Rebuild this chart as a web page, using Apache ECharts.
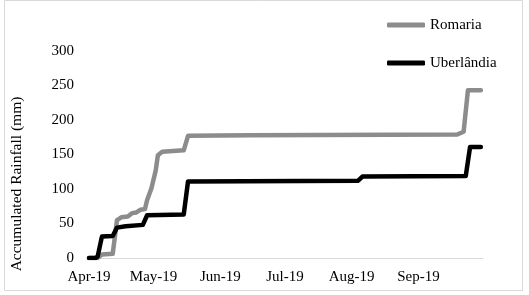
<!DOCTYPE html>
<html>
<head>
<meta charset="utf-8">
<script src="https://cdn.jsdelivr.net/npm/echarts@6/dist/echarts.min.js"></script>
<style>
html,body{margin:0;padding:0;background:#fff;}
#chart{width:529px;height:295px;}
</style>
</head>
<body>
<div id="chart"></div>
<script>
// ---- data ----
var seriesNames = ['Romaria', 'Uberlândia'];
var romariaDates = ['2019-04-01','2019-04-05','2019-04-07','2019-04-12','2019-04-13','2019-04-14','2019-04-16','2019-04-19','2019-04-21','2019-04-23','2019-04-25','2019-04-27','2019-04-28','2019-04-30','2019-05-02','2019-05-03','2019-05-05','2019-05-15','2019-05-17','2019-06-15','2019-09-19','2019-09-22','2019-09-24','2019-09-30'];
var romariaValues = [0,0,5,6,30,55,59,60,65,66,70,71,84,101,127,149,154,156,177,178,179,183,243,243];
var uberDates = ['2019-04-01','2019-04-04','2019-04-05','2019-04-07','2019-04-12','2019-04-14','2019-04-18','2019-04-26','2019-04-28','2019-05-15','2019-05-17','2019-08-04','2019-08-06','2019-09-23','2019-09-25','2019-09-30'];
var uberValues = [0,0,2,31,32,44,46,48,62,63,111,112,118,119,161,161];
var monthTicks = ['2019-04-01','2019-05-01','2019-06-01','2019-07-01','2019-08-01','2019-09-01'];
var monthLabels = ['Apr-19','May-19','Jun-19','Jul-19','Aug-19','Sep-19'];
var axisStart = '2019-04-01', axisEnd = '2019-10-01';
var yTicks = [0, 50, 100, 150, 200, 250, 300];
var yTitle = 'Accumulated Rainfall (mm)';

var DAY = 86400000;
function toDay(s){ var p = s.split('-'); return Math.round((Date.UTC(+p[0], +p[1]-1, +p[2]) - Date.UTC(2019,3,1)) / DAY); }
function pairs(d, v){ return d.map(function(x, i){ return [toDay(x), v[i]]; }); }
var tickDays = monthTicks.map(toDay);

var FONT = '"Liberation Serif", "Times New Roman", serif';
var chart = echarts.init(document.getElementById('chart'), null, {renderer: 'canvas'});
chart.setOption({
  animation: false,
  backgroundColor: '#fff',
  textStyle: {fontFamily: FONT},
  grid: {left: 89, right: 46, top: 51, bottom: 37, containLabel: false},
  legend: {
    orient: 'vertical', left: 387, top: 17, padding: 0, itemWidth: 38, itemHeight: 5, itemGap: 22,
    icon: 'roundRect',
    textStyle: {fontFamily: FONT, fontSize: 15, color: '#000', lineHeight: 16},
    data: seriesNames
  },
  xAxis: {
    type: 'value',
    min: toDay(axisStart), max: toDay(axisEnd),
    axisLine: {show: true, lineStyle: {color: '#d9d9d9', width: 1}},
    axisTick: {show: false},
    splitLine: {show: false},
    axisLabel: {
      customValues: tickDays,
      showMinLabel: true,
      fontFamily: FONT, fontSize: 15, color: '#000', margin: 12,
      formatter: function(v){ var i = tickDays.indexOf(Math.round(v)); return i >= 0 ? monthLabels[i] : ''; }
    }
  },
  yAxis: {
    type: 'value', min: yTicks[0], max: yTicks[yTicks.length-1], interval: 50,
    axisLine: {show: false}, axisTick: {show: false}, splitLine: {show: false},
    axisLabel: {fontFamily: FONT, fontSize: 15, color: '#000', margin: 15}
  },
  graphic: [
    {type: 'rect', shape: {x: 4.5, y: 0.5, width: 518, height: 290}, style: {fill: 'none', stroke: '#d9d9d9', lineWidth: 1}, silent: true, z: -1},
    {type: 'text', x: 17, y: 184, rotation: Math.PI/2,
     style: {text: yTitle, font: '15.5px ' + FONT, fill: '#000', align: 'center', verticalAlign: 'middle'}}
  ],
  series: [
    {name: seriesNames[0], type: 'line', showSymbol: false, symbol: 'none',
     data: pairs(romariaDates, romariaValues),
     lineStyle: {color: '#8c8c8c', width: 4.5, cap: 'round', join: 'round'},
     itemStyle: {color: '#8c8c8c'}, z: 2},
    {name: seriesNames[1], type: 'line', showSymbol: false, symbol: 'none',
     data: pairs(uberDates, uberValues),
     lineStyle: {color: '#000', width: 4.5, cap: 'round', join: 'round'},
     itemStyle: {color: '#000'}, z: 3}
  ]
});
</script>
</body>
</html>
